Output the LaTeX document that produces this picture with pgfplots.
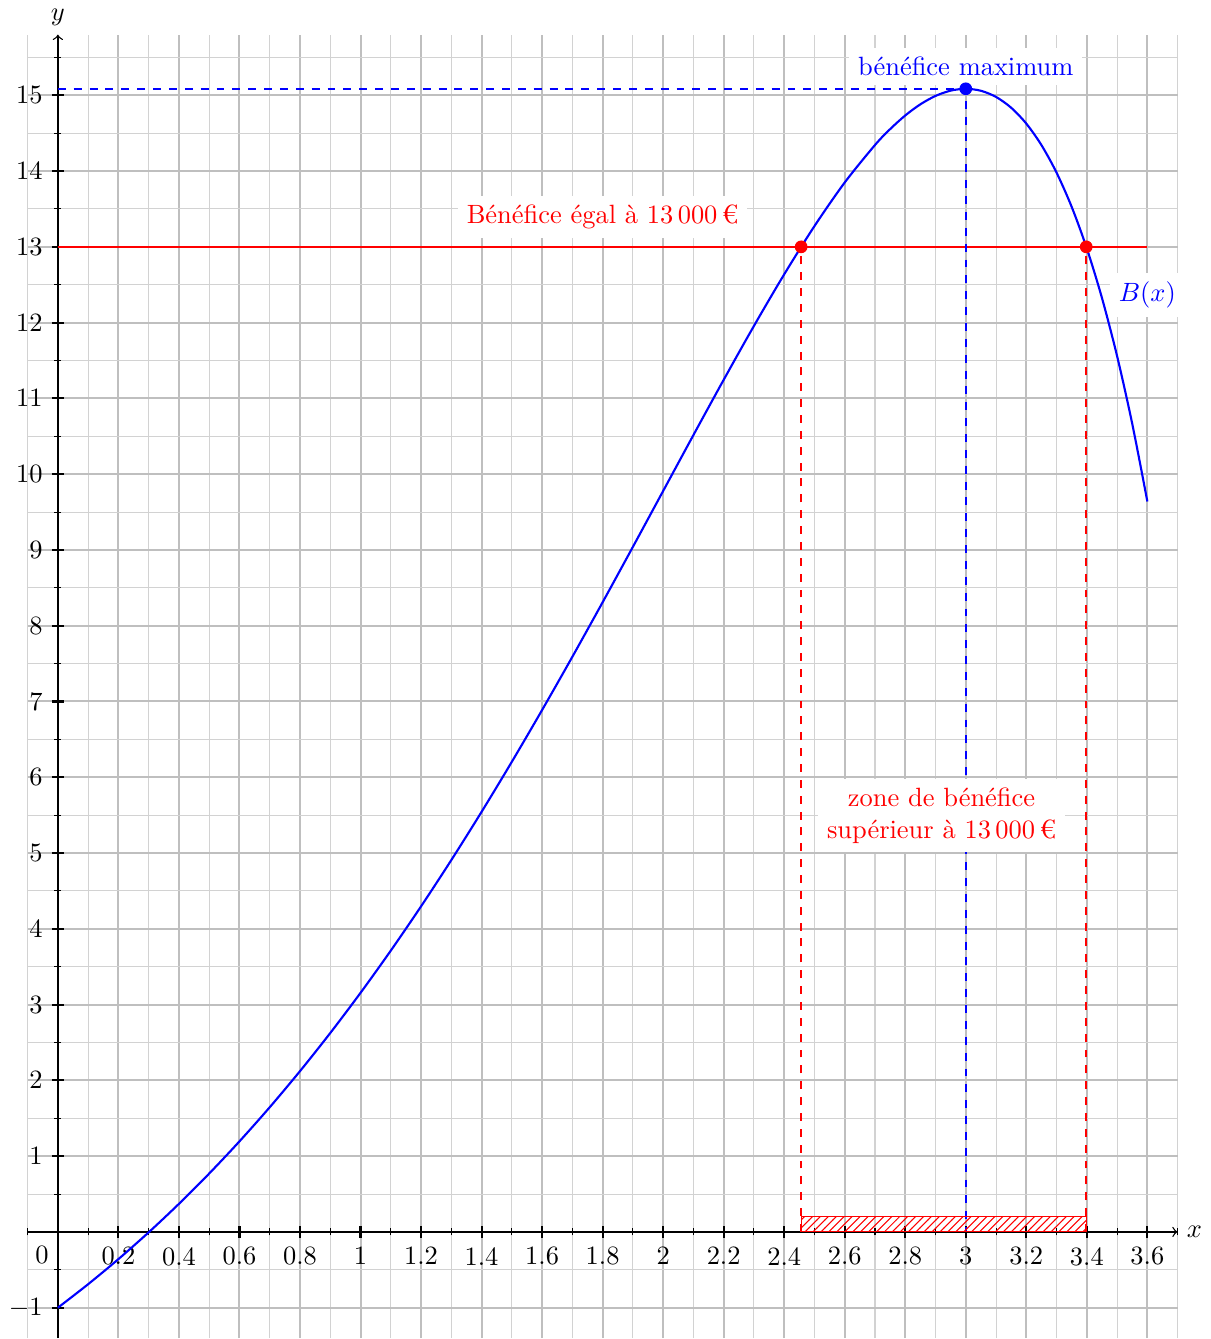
\documentclass[border=0pt]{standalone}
\usepackage{pgfplots}
\pgfplotsset{compat=1.18}
\usetikzlibrary{patterns}
\begin{document}
\begin{tikzpicture}
\begin{axis}[
  scale only axis, width=435pt, height=493pt,
  xmin=-0.1, xmax=3.7, ymin=-1.4, ymax=15.8,
  axis lines=middle,
  axis line style={->, black, line width=0.5pt},
  xtick={0.2,0.4,0.6,0.8,1,1.2,1.4,1.6,1.8,2,2.2,2.4,2.6,2.8,3,3.2,3.4,3.6},
  xticklabels={0.2,0.4,0.6,0.8,1,1.2,1.4,1.6,1.8,2,2.2,2.4,2.6,2.8,3,3.2,3.4,3.6},
  ytick={-1,1,2,3,4,5,6,7,8,9,10,11,12,13,14,15},
  minor xtick={-0.1,0.1,0.3,0.5,0.7,0.9,1.1,1.3,1.5,1.7,1.9,2.1,2.3,2.5,2.7,2.9,3.1,3.3,3.5,3.7},
  minor ytick={-1.5,-0.5,0.5,1.5,2.5,3.5,4.5,5.5,6.5,7.5,8.5,9.5,10.5,11.5,12.5,13.5,14.5,15.5},
  grid=both,
  major grid style={gray!50, line width=0.75pt},
  minor grid style={gray!35, line width=0.4pt},
  tick align=center,
  major tick length=4.5pt,
  minor tick length=2.6pt,
  major tick style={black, line width=0.8pt},
  minor tick style={black, line width=0.4pt},
  xlabel={$x$}, ylabel={$y$},
  xlabel style={anchor=west},
  ylabel style={anchor=south},
  clip=false,
]
% level 13
\addplot[color=red, solid, line width=0.8pt] coordinates {(0,13) (3.6,13)};
% dashed guides
\addplot[red, dashed, thick] coordinates {(2.456,0) (2.456,13)};
\addplot[red, dashed, thick] coordinates {(3.398,0) (3.398,13)};
\addplot[blue, dashed, thick] coordinates {(0,15.0855) (3,15.0855) (3,0)};
% curve B(x)
\addplot[blue, thick, smooth] coordinates {
(0,-1) (0.1,-0.68983) (0.2,-0.35867) (0.3,-0.00552) (0.4,0.37057) (0.5,0.77052)
(0.6,1.19520) (0.7,1.64539) (0.8,2.12173) (0.9,2.62477) (1.0,3.15485)
(1.1,3.71208) (1.2,4.29633) (1.3,4.90710) (1.4,5.54352) (1.5,6.20422)
(1.6,6.88728) (1.7,7.59008) (1.8,8.30922) (1.9,9.04038) (2.0,9.77811)
(2.1,10.51572) (2.2,11.24502) (2.3,11.95611) (2.4,12.63708) (2.5,13.27374)
(2.6,13.84923) (2.7,14.34365) (2.75,14.55329) (2.8,14.73358) (2.85,14.88095) (2.9,14.99156)
(2.95,15.06125) (3.0,15.08554) (3.05,15.05957) (3.1,14.97816) (3.15,14.83565)
(3.2,14.62602) (3.25,14.34275) (3.3,13.97885) (3.35,13.52677) (3.4,12.97846)
(3.45,12.32521) (3.5,11.55773) (3.55,10.66599) (3.6,9.63929)
};
% hatched zone
\addplot[draw=red, pattern=north east lines, pattern color=red] coordinates {(2.456,0) (3.398,0) (3.398,0.2) (2.456,0.2)} -- cycle;
% points
\addplot[only marks, mark=*, mark size=2.2pt, red] coordinates {(2.456,13) (3.398,13)};
\addplot[only marks, mark=*, mark size=2.2pt, blue] coordinates {(3,15.0855)};
% labels
\node[fill=white, text=blue] at (axis cs:3,15.38) {bénéfice maximum};
\node[fill=white, text=red] at (axis cs:1.80,13.39) {Bénéfice égal à 13\,000\,€};
\node[fill=white, text=blue] at (axis cs:3.6,12.37) {$B(x)$};
\node[fill=white, text=red, align=center] at (axis cs:2.92,5.49) {zone de bénéfice\\supérieur à 13\,000\,€};
\node[anchor=north east, yshift=-2pt] at (axis cs:0,0) {$0$};
\end{axis}
\end{tikzpicture}
\end{document}
